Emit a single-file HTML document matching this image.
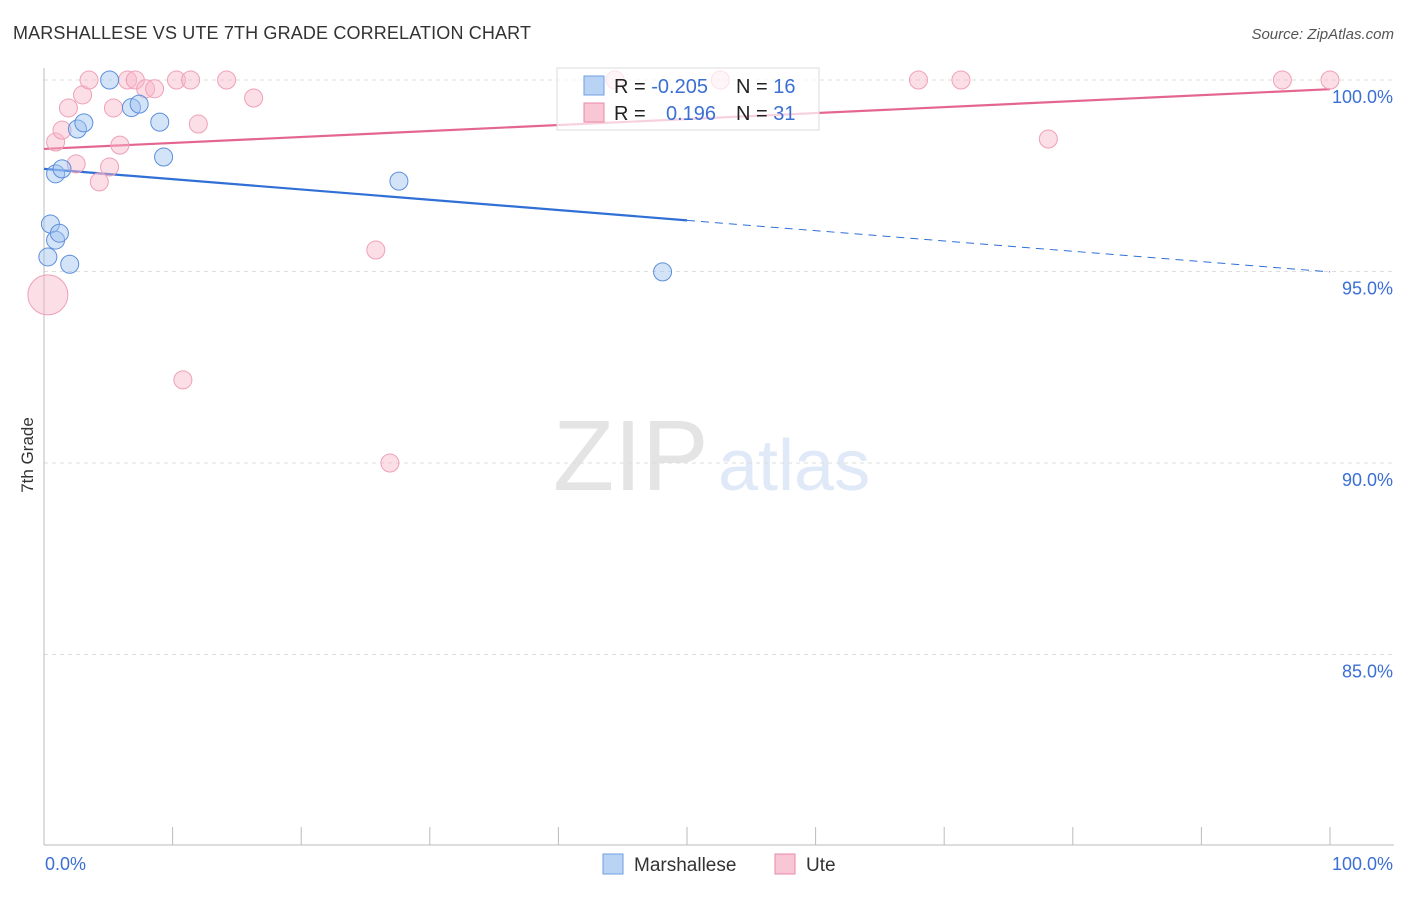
<!DOCTYPE html>
<html><head><meta charset="utf-8">
<style>
body{margin:0;background:#fff;font-family:"Liberation Sans",sans-serif;}
svg text{font-family:"Liberation Sans",sans-serif;}
</style></head>
<body>
<svg id="chart" width="1406" height="892">
<text x="13" y="39" font-size="18" fill="#333" textLength="518">MARSHALLESE VS UTE 7TH GRADE CORRELATION CHART</text>
<text x="1394" y="39" font-size="15" fill="#555" font-style="italic" text-anchor="end">Source: ZipAtlas.com</text>
<text transform="translate(33,455) rotate(-90)" font-size="17" fill="#333" text-anchor="middle">7th Grade</text>
<g>
<text x="553" y="490" font-size="100" fill="#e4e4e4" font-family="Liberation Serif, serif">ZIP</text>
<text x="718" y="490" font-size="72" fill="#dfe9f7">atlas</text>
</g>
<g id="grid"></g>
<g id="axes"></g>
<g id="lines"></g>
<g id="points"></g>
<g>
<rect x="557" y="68" width="262" height="62" fill="rgba(255,255,255,0.7)" stroke="#ddd"/>
<rect x="584" y="76" width="20" height="19" fill="#b9d3f5" stroke="#6e9fe0"/>
<text x="614" y="93" font-size="20" fill="#222">R = <tspan fill="#3b6fd4">-0.205</tspan></text>
<text x="736" y="93" font-size="20" fill="#222">N = <tspan fill="#3b6fd4">16</tspan></text>
<rect x="584" y="103" width="20" height="19" fill="#f8c6d4" stroke="#e88aa6"/>
<text x="614" y="120" font-size="20" fill="#222">R = <tspan x="666" fill="#3b6fd4">0.196</tspan></text>
<text x="736" y="120" font-size="20" fill="#222">N = <tspan fill="#3b6fd4">31</tspan></text>
</g>
<g>
<rect x="603" y="854" width="20" height="20" fill="#b9d3f5" stroke="#6e9fe0"/>
<text x="634" y="871" font-size="19" fill="#333">Marshallese</text>
<rect x="775" y="854" width="20" height="20" fill="#f8c6d4" stroke="#e88aa6"/>
<text x="806" y="871" font-size="19" fill="#333">Ute</text>
</g>
</svg>
<script>
const yTicks=[100,95,90,85];
const yTickLabels=["100.0%","95.0%","90.0%","85.0%"];
const xTickLabels=["0.0%","100.0%"];
const blueX=[5.1,0.3,0.5,0.9,1.2,2.0,0.9,1.4,2.6,3.1,6.8,7.4,9.0,9.3,27.6,48.1];
const blueY=[100,95.38,96.24,95.82,96.0,95.19,97.55,97.68,98.72,98.88,99.28,99.37,98.9,97.99,97.36,94.99];
const pinkX=[0.9,1.4,1.9,2.5,3.0,3.5,4.3,5.1,5.4,5.9,6.5,7.1,7.9,8.6,10.3,11.4,12.0,14.2,16.3,10.8,25.8,26.9,44.4,52.6,68.0,71.3,78.1,96.3,100,0.3];
const pinkY=[98.38,98.69,99.27,97.81,99.61,100,97.34,97.73,99.27,98.3,100,100,99.77,99.77,100,100,98.85,100,99.53,92.17,95.56,90.0,100,100,100,100,98.46,100,100,94.39];
const pinkR=[9,9,9,9,9,9,9,9,9,9,9,9,9,9,9,9,9,9,9,9,9,9,9,9,9,9,9,9,9,20];
const blueTrend=[97.68,94.99];
const pinkTrend=[98.2,99.76];
const blueSolidEnd=50;

const X=v=>44+v*12.86;
const Y=v=>80+(100-v)*38.3;
const NS="http://www.w3.org/2000/svg";
function mk(parent,tag,attrs){const e=document.createElementNS(NS,tag);for(const k in attrs)e.setAttribute(k,attrs[k]);document.getElementById(parent).appendChild(e);return e;}

yTicks.forEach((t,i)=>{
 const l=mk('grid','line',{x1:44,x2:1394,y1:Y(t),y2:Y(t),stroke:'#ddd','stroke-dasharray':'4,4'});
 
 
 const tx=mk('grid','text',{x:1393,y:Y(t)+23,'font-size':18,fill:'#3b6fd4','text-anchor':'end'});
 tx.textContent=yTickLabels[i];
 
 
});
let a=mk('axes','line',{x1:44,x2:44,y1:68,y2:845,stroke:'#bbb'});


a=mk('axes','line',{x1:44,x2:1394,y1:845,y2:845,stroke:'#bbb'});


for(let i=1;i<=10;i++){
 const t=mk('axes','line',{x1:X(i*10),x2:X(i*10),y1:827,y2:845,stroke:'#bbb'});
 
 
}
let xl=mk('axes','text',{x:45,y:870,'font-size':18,fill:'#3b6fd4'});
xl.textContent=xTickLabels[0];


xl=mk('axes','text',{x:1393,y:870,'font-size':18,fill:'#3b6fd4','text-anchor':'end'});
xl.textContent=xTickLabels[1];



pinkX.forEach((x,i)=>{
 const c=mk('points','circle',{cx:X(x),cy:Y(pinkY[i]),r:pinkR[i],fill:'rgba(248,182,202,0.45)',stroke:'#eea0b8','stroke-width':1});
 
 
});
blueX.forEach((x,i)=>{
 const c=mk('points','circle',{cx:X(x),cy:Y(blueY[i]),r:9,fill:'rgba(160,196,240,0.45)',stroke:'#5c8fdc','stroke-width':1});
 
 
});
const bMid=blueTrend[0]+(blueTrend[1]-blueTrend[0])*blueSolidEnd/100;
let ln=mk('lines','line',{x1:X(0),y1:Y(blueTrend[0]),x2:X(blueSolidEnd),y2:Y(bMid),stroke:'#2f6fd6','stroke-width':2.2});


ln=mk('lines','line',{x1:X(blueSolidEnd),y1:Y(bMid),x2:X(100),y2:Y(blueTrend[1]),stroke:'#2f6fd6','stroke-width':1,'stroke-dasharray':'8,6'});


ln=mk('lines','line',{x1:X(0),y1:Y(pinkTrend[0]),x2:X(100),y2:Y(pinkTrend[1]),stroke:'#e4668e','stroke-width':2.2});


</script>
</body></html>
